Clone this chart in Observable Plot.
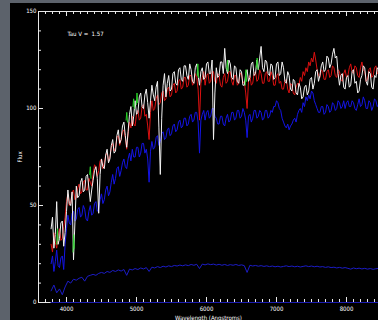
<!DOCTYPE html>
<html>
<head>
<meta charset="utf-8">
<script src="https://cdn.jsdelivr.net/npm/d3@7"></script>
<script src="https://cdn.jsdelivr.net/npm/@observablehq/plot@0.6"></script>
<style>
  html, body { margin: 0; padding: 0; background: #5c626b; width: 378px; height: 320px; overflow: hidden; }
  #panel { position: absolute; left: 10px; top: 3px; width: 368px; height: 317px; background: #000; overflow: hidden; }
  #panel svg { display: block; }
</style>
</head>
<body>
<div id="panel"></div>
<script>
// Spectrum sampling grid (Angstroms), 20 A bins
const waves = d3.range(3780, 8461, 20);
// Coarser grid for the smooth template
const templateWaves = d3.range(3780, 8461, 40);

// Observed spectrum
const observed = [
  38, 44, 28, 35, 52, 30, 33, 41, 42, 29,
  36, 47, 58, 51, 50, 57, 22, 41, 60, 54,
  55, 62, 64, 57, 58, 65, 66, 59, 52, 58,
  63, 68, 70, 64, 46, 66, 74, 70, 69, 76,
  79, 72, 74, 81, 84, 77, 78, 86, 89, 82,
  84, 91, 93, 86, 80, 88, 97, 101, 91, 96,
  104, 97, 98, 106, 108, 101, 100, 107, 110, 103,
  95, 104, 112, 107, 104, 111, 114, 90, 66, 95,
  112, 118, 106, 113, 117, 109, 110, 118, 119, 113,
  112, 120, 121, 115, 114, 122, 122, 117, 115, 123,
  120, 114, 113, 121, 123, 117, 112, 119, 121, 115,
  116, 123, 124, 118, 118, 125, 84, 108, 121, 116,
  117, 124, 124, 118, 131, 121, 118, 125, 123, 116,
  115, 122, 121, 114, 113, 120, 119, 112, 112, 118,
  120, 114, 116, 123, 124, 117, 118, 125, 120, 126,
  132, 121, 119, 125, 124, 118, 117, 123, 122, 115,
  116, 123, 124, 117, 118, 124, 121, 114, 113, 119,
  117, 110, 109, 115, 114, 108, 107, 113, 111, 105,
  106, 111, 112, 107, 109, 115, 116, 110, 113, 119,
  120, 114, 117, 122, 124, 119, 120, 127, 126, 121,
  123, 128, 131, 126, 127, 118, 112, 117, 118, 111,
  110, 116, 117, 111, 112, 119, 120, 113, 114, 108,
  109, 115, 117, 122, 121, 114, 112, 119, 118, 111,
  110, 117, 116, 121, 120
];

// Best-fit model (reddened)
const model = [
  30, 26, 36, 31, 28, 34, 38, 32, 33, 39,
  44, 52, 56, 50, 51, 57, 58, 53, 54, 59,
  61, 56, 57, 62, 63, 58, 58, 64, 62, 60,
  66, 71, 70, 65, 68, 73, 74, 69, 72, 76,
  77, 73, 75, 80, 82, 78, 80, 85, 86, 81,
  84, 88, 89, 85, 79, 87, 93, 90, 96, 92,
  91, 97, 99, 94, 95, 101, 102, 96, 97, 91,
  84, 98, 104, 99, 100, 105, 107, 102, 103, 108,
  109, 104, 105, 110, 111, 106, 107, 112, 113, 108,
  109, 114, 115, 110, 111, 116, 116, 111, 112, 117,
  117, 112, 113, 118, 116, 110, 94, 113, 116, 119,
  112, 117, 118, 113, 114, 119, 119, 114, 113, 118,
  117, 112, 111, 116, 118, 113, 114, 119, 119, 114,
  112, 117, 117, 112, 113, 118, 118, 113, 114, 108,
  100, 114, 117, 112, 113, 118, 119, 114, 115, 120,
  118, 113, 113, 118, 119, 114, 114, 119, 117, 112,
  112, 117, 118, 113, 114, 110, 110, 114, 115, 110,
  108, 113, 112, 108, 107, 111, 113, 112, 116, 114,
  119, 117, 121, 119, 124, 122, 126, 124, 129, 125,
  120, 117, 116, 120, 119, 115, 115, 119, 120, 116,
  117, 122, 121, 117, 116, 120, 119, 115, 114, 118,
  120, 116, 117, 121, 123, 119, 118, 122, 121, 117,
  116, 121, 124, 120, 119, 114, 115, 120, 121, 116,
  117, 121, 122, 118, 118
];

// Second model component
const component = [
  20, 24, 16, 21, 27, 19, 18, 23, 24, 17,
  30, 38, 45, 41, 40, 46, 47, 42, 43, 48,
  49, 44, 45, 50, 48, 43, 42, 47, 50, 45,
  46, 51, 52, 47, 48, 53, 56, 51, 53, 58,
  60, 55, 57, 62, 66, 61, 64, 69, 70, 65,
  68, 72, 74, 70, 69, 74, 77, 73, 79, 75,
  75, 80, 80, 75, 77, 82, 82, 77, 79, 74,
  62, 78, 83, 79, 80, 85, 86, 81, 83, 87,
  88, 84, 85, 89, 90, 86, 87, 91, 92, 88,
  89, 93, 94, 90, 91, 95, 95, 91, 92, 96,
  97, 93, 94, 98, 98, 93, 77, 94, 97, 99,
  94, 98, 99, 95, 96, 100, 100, 96, 95, 92,
  92, 96, 96, 92, 91, 95, 97, 93, 94, 98,
  98, 94, 95, 99, 99, 95, 96, 100, 98, 94,
  85, 96, 97, 93, 95, 99, 99, 95, 96, 99,
  98, 94, 95, 99, 99, 95, 96, 99, 98, 101,
  101, 104, 103, 100, 99, 95, 93, 91, 90, 92,
  89, 91, 92, 94, 95, 93, 97, 99, 100, 98,
  103, 101, 106, 104, 107, 105, 109, 108, 104, 102,
  100, 98, 98, 101, 101, 97, 98, 102, 101, 98,
  99, 103, 102, 99, 100, 104, 103, 100, 101, 104,
  100, 103, 104, 101, 101, 104, 103, 100, 99, 102,
  105, 101, 102, 106, 104, 100, 100, 104, 103, 99,
  101, 105, 104, 101, 102
];

// Old-population template
const template = [
  6, 9, 5, 7, 4, 8, 11, 10, 12, 11.5,
  12.5, 13, 11, 13.5, 14, 14.5, 14, 15, 15.5, 15,
  16, 15.5, 16.5, 16, 16.8, 16.2, 17, 14, 17.2, 16.8,
  17.5, 17, 17.8, 17.3, 18, 16, 18.2, 17.8, 18.5, 18,
  18.7, 18.3, 18.9, 18.5, 19.1, 18.8, 19.3, 18.9, 19.4, 19,
  19.6, 19.2, 19.7, 17.5, 19.8, 19.4, 19.9, 19.5, 19.8, 19.3,
  19.7, 19.2, 19.6, 19.1, 19.5, 19.2, 19.6, 19.1, 19.4, 19,
  15.5, 19.2, 18.8, 19.1, 18.7, 19, 18.6, 18.9, 18.5, 18.8,
  18.4, 18.7, 18.3, 18.6, 18.9, 18.5, 18.8, 18.4, 18.7, 18.3,
  18.6, 18.9, 18.5, 18.8, 18.4, 18.7, 18.3, 18.5, 18.1, 18.4,
  18, 18.2, 17.8, 18.1, 17.7, 18, 17.6, 17.2, 17.8, 17.4,
  17.7, 17.3, 17.6, 17.2, 17.5, 17.1, 17.4, 17.6
];

// Masked emission-line windows in the observed spectrum
const emissionLine = [
  "[NeIII]", "[NeIII]", "[NeIII]",
  "Hd", "Hd", "Hd",
  "Hg", "Hg", "Hg",
  "Hb", "Hb", "Hb",
  "[OIII]4959", "[OIII]4959", "[OIII]4959",
  "[OIII]5007", "[OIII]5007", "[OIII]5007",
  "HeI", "HeI", "HeI",
  "[OI]", "[OI]", "[OI]",
  "Ha", "Ha", "Ha",
  "[SII]", "[SII]", "[SII]"
];
const emissionWave = [
  3860, 3870, 3880,
  4092, 4102, 4112,
  4330, 4340, 4350,
  4851, 4861, 4871,
  4949, 4959, 4969,
  4997, 5007, 5017,
  5866, 5876, 5886,
  6290, 6300, 6310,
  6553, 6563, 6573,
  6710, 6724, 6738
];
const emissionFlux = [
  30, 38, 32,
  26, 35, 28,
  66, 70, 64,
  94, 98, 93,
  101, 105, 100,
  102, 108, 103,
  117, 123, 116,
  120, 125, 119,
  112, 120, 114,
  121, 126, 120
];

const tauV = 1.57;

// Axis ticks
const xMajor = [4000, 5000, 6000, 7000, 8000];
const xMinor = d3.range(3700, 8500, 100).filter(d => d % 1000 !== 0);
const yMajor = [0, 50, 100, 150];
const yMinor = d3.range(10, 150, 10).filter(d => d % 50 !== 0);

const W = 368, H = 317, ML = 28, MT = 8, MB = 18;
const frameW = W - ML, frameH = H - MT - MB;

const series = (xs, ys) => xs.map((w, i) => ({w, f: ys[i]}));
const emission = emissionWave.map((w, i) => ({w, f: emissionFlux[i], line: emissionLine[i]}));

const font = "'Liberation Sans Narrow', 'DejaVu Sans Condensed', sans-serif";
const axisColor = "#e8e8e8";

const chart = Plot.plot({
  width: W,
  height: H,
  marginLeft: ML,
  marginRight: 0,
  marginTop: MT,
  marginBottom: MB,
  style: {background: "#000", color: "#fff", fontFamily: font, fontSize: "6px"},
  x: {domain: [3600, 8457]},
  y: {domain: [0, 150]},
  marks: [
    // frame sides
    Plot.ruleX([3600], {stroke: axisColor}),
    Plot.ruleY([150], {stroke: axisColor}),
    Plot.ruleY([0], {stroke: axisColor}),
    // inward tick marks: bottom, top, left
    Plot.ruleX(xMinor, {stroke: axisColor, insetTop: frameH - 3}),
    Plot.ruleX(xMajor, {stroke: axisColor, insetTop: frameH - 5}),
    Plot.ruleX(xMinor, {stroke: axisColor, insetBottom: frameH - 3}),
    Plot.ruleX(xMajor, {stroke: axisColor, insetBottom: frameH - 5}),
    Plot.ruleY(yMinor, {stroke: axisColor, insetRight: frameW - 3}),
    Plot.ruleY(yMajor, {stroke: axisColor, insetRight: frameW - 5}),
    // tick labels and titles
    Plot.axisX({ticks: xMajor, anchor: "bottom", tickSize: 0, tickPadding: 4, fontSize: 6,
      tickFormat: d3.format("d"),
      label: "Wavelength (Angstroms)", labelAnchor: "center", labelArrow: "none", labelOffset: 17}),
    Plot.axisY({ticks: yMajor, anchor: "left", tickSize: 0, tickPadding: 2, fontSize: 6,
      tickFormat: d3.format("d"),
      label: "Flux", labelAnchor: "center", labelArrow: "none", labelOffset: 21}),
    // zero level
    Plot.ruleY([0], {x1: waves[0], x2: waves[waves.length - 1], stroke: "#1c1cb0"}),
    // spectra
    Plot.line(series(templateWaves, template), {x: "w", y: "f", stroke: "#1c1cc8", strokeWidth: 1}),
    Plot.line(series(waves, component), {x: "w", y: "f", stroke: "#1414e6", strokeWidth: 1}),
    Plot.line(series(waves, model), {x: "w", y: "f", stroke: "#dc1010", strokeWidth: 1}),
    Plot.line(series(waves, observed), {x: "w", y: "f", stroke: "#f2f2f2", strokeWidth: 1}),
    Plot.line(emission, {x: "w", y: "f", z: "line", stroke: "#28d028", strokeWidth: 1}),
    // annotation
    Plot.text([`Tau V =  ${tauV}`], {frameAnchor: "top-left", dx: 29, dy: 20, textAnchor: "start",
      fill: "#fff", fontSize: 6})
  ]
});

document.getElementById("panel").appendChild(chart);
</script>
</body>
</html>
